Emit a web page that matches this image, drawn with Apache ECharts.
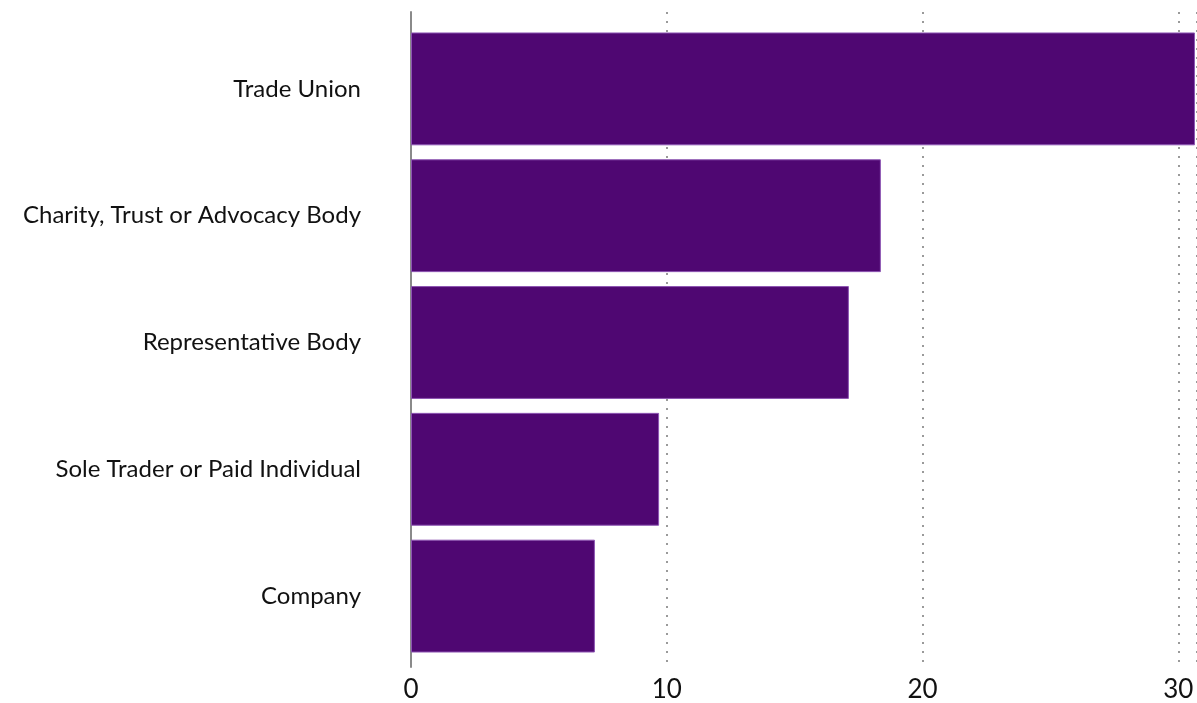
<!DOCTYPE html>
<html>
<head>
<meta charset="utf-8">
<script src="https://cdn.jsdelivr.net/npm/echarts@6/dist/echarts.min.js"></script>
<style>
  html, body { margin: 0; padding: 0; background: #fff; }
  #chart { width: 1197px; height: 703px; }
</style>
</head>
<body>
<div id="chart"></div>
<script>
const categories = [
  'Trade Union',
  'Charity, Trust or Advocacy Body',
  'Representative Body',
  'Sole Trader or Paid Individual',
  'Company'
]
const values = [30.65, 18.37, 17.12, 9.7, 7.19]
const xMax = 30.73

const chart = echarts.init(document.getElementById('chart'))
const font = 'Lato, "Noto Sans", sans-serif'

chart.setOption({
  animation: false,
  grid: [
    // bars
    { left: 411, right: 0, top: 25.5, bottom: 43.5 },
    // axis frame: y axis line, gridlines, x labels
    { left: 411, right: 0, top: 12, bottom: 31 }
  ],
  xAxis: [
    { gridIndex: 0, type: 'value', min: 0, max: xMax, interval: 10, show: false },
    {
      gridIndex: 1, type: 'value', min: 0, max: xMax, interval: 10,
      axisLine: { show: false },
      axisTick: { show: false },
      axisLabel: {
        margin: 10, fontSize: 26, color: '#111', fontFamily: font,
        showMaxLabel: false,
        formatter: v => (v % 10 === 0 ? String(v) : '')
      },
      splitLine: { show: true, lineStyle: { color: '#9a9a9a', width: 2, type: [2, 7] } }
    }
  ],
  yAxis: [
    {
      gridIndex: 0, type: 'category', data: categories, inverse: true,
      axisLine: { show: false },
      axisTick: { show: false },
      axisLabel: { margin: 50, fontSize: 24, color: '#111', fontFamily: font }
    },
    {
      gridIndex: 1, type: 'value', min: 0, max: 1,
      axisLine: { show: true, lineStyle: { color: '#8a8a8a', width: 2 } },
      axisTick: { show: false },
      axisLabel: { show: false },
      splitLine: { show: false }
    }
  ],
  series: [{
    type: 'bar',
    xAxisIndex: 0,
    yAxisIndex: 0,
    data: values,
    barCategoryGap: '11%',
    itemStyle: { color: '#4f0772', borderColor: '#8d55b3', borderWidth: 1 },
    z: 3
  }]
})
</script>
</body>
</html>
